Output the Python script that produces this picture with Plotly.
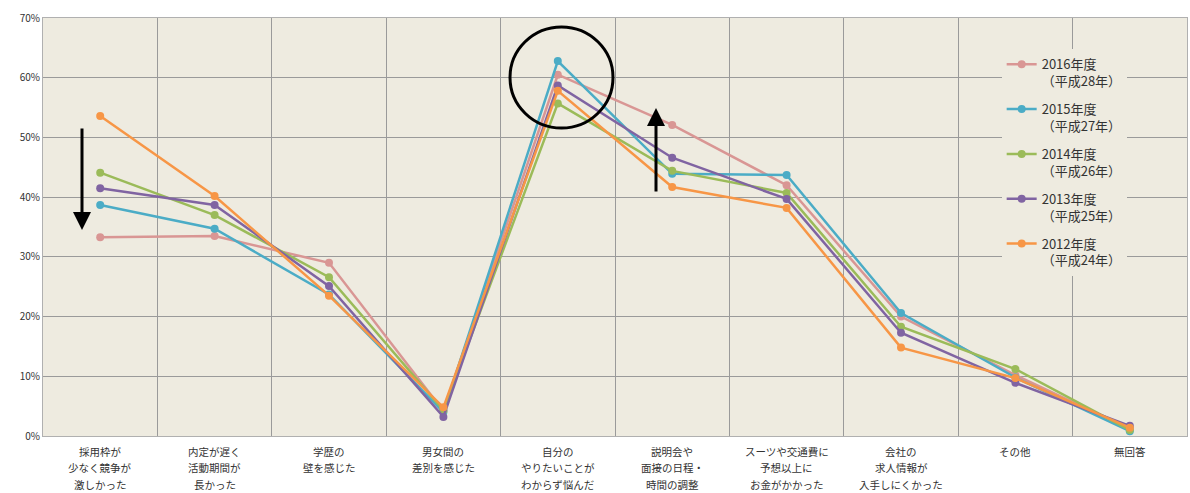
import plotly.graph_objects as go

categories = [
    "採用枠が<br>少なく競争が<br>激しかった",
    "内定が遅く<br>活動期間が<br>長かった",
    "学歴の<br>壁を感じた",
    "男女間の<br>差別を感じた",
    "自分の<br>やりたいことが<br>わからず悩んだ",
    "説明会や<br>面接の日程・<br>時間の調整",
    "スーツや交通費に<br>予想以上に<br>お金がかかった",
    "会社の<br>求人情報が<br>入手しにくかった",
    "その他",
    "無回答",
]

series_names = [
    "2016年度<br>（平成28年）",
    "2015年度<br>（平成27年）",
    "2014年度<br>（平成26年）",
    "2013年度<br>（平成25年）",
    "2012年度<br>（平成24年）",
]

v2016 = [33.3, 33.5, 29.0, 4.2, 60.5, 52.1, 42.0, 20.0, 10.2, 1.2]
v2015 = [38.7, 34.7, 23.7, 4.0, 62.8, 43.9, 43.7, 20.6, 9.8, 0.8]
v2014 = [44.1, 37.0, 26.6, 4.3, 55.7, 44.4, 40.7, 18.3, 11.2, 1.0]
v2013 = [41.5, 38.7, 25.1, 3.2, 58.7, 46.6, 39.7, 17.3, 8.9, 1.7]
v2012 = [53.6, 40.2, 23.5, 4.8, 57.8, 41.7, 38.2, 14.8, 9.7, 1.4]

values = [v2016, v2015, v2014, v2013, v2012]
colors = ["#D99694", "#4BACC6", "#9BBB59", "#8064A2", "#F79646"]

FONT = "Noto Sans CJK JP"
fig = go.Figure()
for name, vals, c in zip(series_names, values, colors):
    fig.add_trace(go.Scatter(
        x=categories, y=vals, name=name, mode="lines+markers",
        legendgroup=name,
        line=dict(color=c, width=2.5),
        marker=dict(color=c, size=8),
    ))

fig.update_layout(
    width=1190, height=493,
    margin=dict(l=43, r=3, t=18, b=57),
    paper_bgcolor="white",
    plot_bgcolor="#EEEBE0",
    font=dict(family=FONT, size=11, color="#333333"),
    showlegend=True,
    legend=dict(
        x=0.838, y=0.925, xanchor="left", yanchor="top",
        bgcolor="#EEEBE0", font=dict(size=13, color="#333333", family=FONT),
        valign="top", tracegroupgap=8, itemwidth=30,
    ),
    xaxis=dict(
        type="category", range=[-0.5, 9.5], tickson="boundaries",
        showgrid=True, gridcolor="#9A9A9A", gridwidth=1,
        showline=True, linecolor="#B0B0B0", linewidth=1, mirror=True,
        ticks="", showticklabels=False,
        fixedrange=True,
    ),
    yaxis=dict(
        range=[0, 70], dtick=10, ticksuffix="%",
        showgrid=True, gridcolor="#9A9A9A", gridwidth=1,
        showline=True, linecolor="#B0B0B0", linewidth=1, mirror=True,
        zeroline=False, ticks="", tickfont=dict(size=10, color="#333333"),
    ),
)

# category labels, one annotation per line for wider line spacing
for cat in categories:
    for i, line in enumerate(cat.split("<br>")):
        fig.add_annotation(xref="x", yref="paper", x=cat, y=0,
                           yanchor="middle", yshift=-15 - 16.5 * i,
                           text=line, showarrow=False,
                           font=dict(size=10.5, color="#333333", family=FONT))

# circle highlight
fig.add_shape(type="circle", xref="paper", yref="paper",
              x0=(510 - 43) / 1144, x1=(613 - 43) / 1144,
              y0=(436 - 128) / 418, y1=(436 - 27) / 418,
              line=dict(color="black", width=3))

# arrows
fig.add_annotation(xref="paper", yref="paper",
                   x=(82 - 43) / 1144, y=(436 - 230) / 418, ax=0, ay=-103,
                   text="", showarrow=True, arrowhead=2, arrowsize=1.2,
                   arrowwidth=3, arrowcolor="black")
fig.add_annotation(xref="paper", yref="paper",
                   x=(656 - 43) / 1144, y=(436 - 108) / 418, ax=0, ay=85,
                   text="", showarrow=True, arrowhead=2, arrowsize=1.2,
                   arrowwidth=3, arrowcolor="black")

# selection handles
for hx, hy in [(0, 1), (0, 0.5), (0, 0), (0.5, 1), (0.5, 0), (1, 1), (1, 0.5), (1, 0)]:
    fig.add_shape(type="rect", xref="paper", yref="paper",
                  x0=hx, x1=hx, y0=hy, y1=hy, xsizemode="pixel", ysizemode="pixel",
                  xanchor=hx, yanchor=hy,
                  line=dict(color="#AAAAAA", width=1), fillcolor="white")

fig.write_html("out.html")
